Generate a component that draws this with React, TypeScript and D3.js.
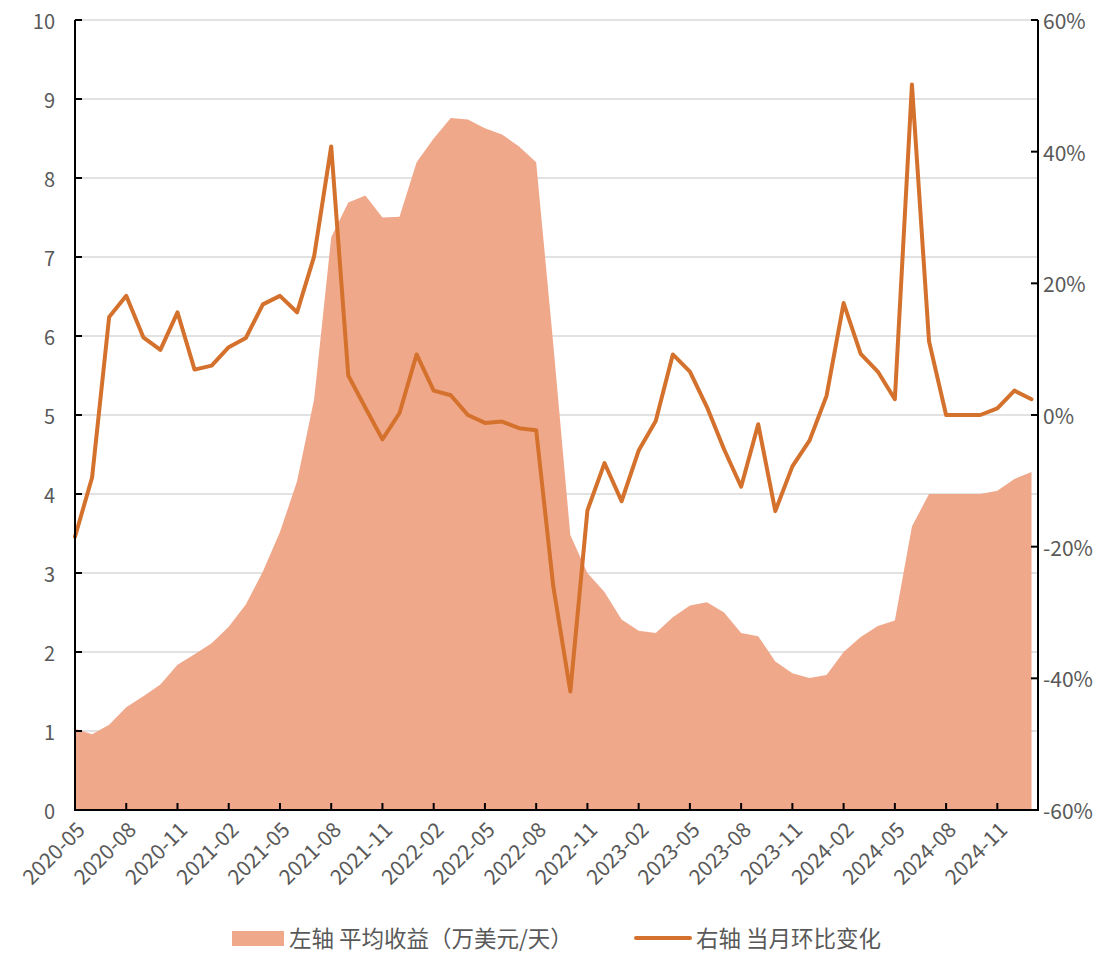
import * as d3 from "d3";

const months = [
  "2020-05", "2020-06", "2020-07", "2020-08", "2020-09", "2020-10", "2020-11", "2020-12",
  "2021-01", "2021-02", "2021-03", "2021-04", "2021-05", "2021-06", "2021-07", "2021-08",
  "2021-09", "2021-10", "2021-11", "2021-12", "2022-01", "2022-02", "2022-03", "2022-04",
  "2022-05", "2022-06", "2022-07", "2022-08", "2022-09", "2022-10", "2022-11", "2022-12",
  "2023-01", "2023-02", "2023-03", "2023-04", "2023-05", "2023-06", "2023-07", "2023-08",
  "2023-09", "2023-10", "2023-11", "2023-12", "2024-01", "2024-02", "2024-03", "2024-04",
  "2024-05", "2024-06", "2024-07", "2024-08", "2024-09", "2024-10", "2024-11", "2024-12",
  "2025-01",
];

// 左轴：平均收益（万美元/天）
const avgEarnings = [
  1.03, 0.96, 1.08, 1.3, 1.44, 1.59, 1.84, 1.97, 2.11, 2.32, 2.6, 3.02, 3.52, 4.16, 5.2, 7.25,
  7.69, 7.78, 7.5, 7.51, 8.2, 8.5, 8.76, 8.74, 8.63, 8.55, 8.4, 8.2, 5.9, 3.48, 3.0, 2.76,
  2.41, 2.27, 2.24, 2.44, 2.59, 2.63, 2.5, 2.24, 2.2, 1.88, 1.73, 1.67, 1.71, 2.0, 2.19, 2.33,
  2.4, 3.59, 4.0, 4.0, 4.0, 4.0, 4.04, 4.19, 4.28,
];

// 右轴：当月环比变化（%）
const momChange = [
  -18.5, -9.5, 14.9, 18.1, 11.8, 9.9, 15.6, 6.9, 7.5, 10.3, 11.7, 16.8, 18.1, 15.6, 24.1, 40.8,
  6.0, 1.1, -3.7, 0.3, 9.2, 3.7, 3.0, 0.0, -1.2, -1.0, -2.0, -2.3, -26.0, -42.0, -14.5, -7.3,
  -13.1, -5.4, -0.9, 9.2, 6.6, 1.2, -5.2, -10.9, -1.4, -14.6, -7.8, -3.9, 2.9, 17.0, 9.3, 6.6,
  2.4, 50.2, 11.2, 0, 0, 0, 1.0, 3.7, 2.4,
];

const leftTicks = [0, 1, 2, 3, 4, 5, 6, 7, 8, 9, 10];
const rightTicks = [-60, -40, -20, 0, 20, 40, 60];
const xTickLabels = [
  "2020-05", "2020-08", "2020-11", "2021-02", "2021-05", "2021-08", "2021-11", "2022-02",
  "2022-05", "2022-08", "2022-11", "2023-02", "2023-05", "2023-08", "2023-11", "2024-02",
  "2024-05", "2024-08", "2024-11",
];

const legendLeft = "左轴 平均收益（万美元/天）";
const legendRight = "右轴 当月环比变化";

const W = 1117;
const H = 955;
const left = 75;
const lastX = 1031.5;
const rightAxis = 1038;
const top = 20;
const bottom = 810;

const AREA_COLOR = "#F0A88B";
const LINE_COLOR = "#D4712D";
const TEXT_COLOR = "#595959";
const GRID_COLOR = "#D9D9D9";
const FONT = "'Noto Sans CJK SC', 'Noto Sans', sans-serif";

export default function App() {
  const x = d3.scalePoint<string>().domain(months).range([left, lastX]);
  const yL = d3.scaleLinear().domain([0, 10]).range([bottom, top]);
  const yR = d3.scaleLinear().domain([-60, 60]).range([bottom, top]);

  const area = d3
    .area<number>()
    .x((_, i) => x(months[i]) ?? 0)
    .y0(yL(0))
    .y1((d) => yL(d));

  const line = d3
    .line<number>()
    .x((_, i) => x(months[i]) ?? 0)
    .y((d) => yR(d));

  return (
    <svg
      width={W}
      height={H}
      style={{ position: "absolute", left: 0, top: 0, background: "#fff" }}
      fontFamily={FONT}
    >
      {/* gridlines */}
      {leftTicks.slice(1).map((t) => (
        <line key={"g" + t} x1={left} x2={rightAxis} y1={yL(t)} y2={yL(t)} stroke={GRID_COLOR} strokeWidth={1.5} />
      ))}

      <path d={area(avgEarnings) ?? ""} fill={AREA_COLOR} />
      <path
        d={line(momChange) ?? ""}
        fill="none"
        stroke={LINE_COLOR}
        strokeWidth={4}
        strokeLinejoin="round"
        strokeLinecap="round"
      />

      {/* axes */}
      <line x1={left} x2={left} y1={top} y2={bottom} stroke="#000" strokeWidth={2} />
      <line x1={rightAxis} x2={rightAxis} y1={top} y2={bottom} stroke="#000" strokeWidth={2} />
      <line x1={left - 1} x2={rightAxis + 1} y1={bottom} y2={bottom} stroke="#000" strokeWidth={2} />

      {leftTicks.map((t) => (
        <g key={"l" + t}>
          <line x1={left} x2={left + 7} y1={yL(t)} y2={yL(t)} stroke="#000" strokeWidth={2} />
          <text x={55} y={yL(t)} textAnchor="end" dominantBaseline="central" fontSize={20} fill={TEXT_COLOR}>
            {t}
          </text>
        </g>
      ))}

      {rightTicks.map((t) => (
        <g key={"r" + t}>
          <line x1={rightAxis - 7} x2={rightAxis} y1={yR(t)} y2={yR(t)} stroke="#000" strokeWidth={2} />
          <text x={1043} y={yR(t)} dominantBaseline="central" fontSize={21} fill={TEXT_COLOR}>
            {t + "%"}
          </text>
        </g>
      ))}

      {xTickLabels.map((m) => {
        const px = x(m) ?? 0;
        return (
          <g key={m}>
            <line x1={px} x2={px} y1={bottom} y2={bottom - 7} stroke="#000" strokeWidth={2} />
            <text
              transform={`translate(${px + 5},${bottom + 15}) rotate(-45)`}
              textAnchor="end"
              dominantBaseline="central"
              fontSize={21}
              fill={TEXT_COLOR}
            >
              {m}
            </text>
          </g>
        );
      })}

      {/* legend */}
      <rect x={232} y={931} width={52} height={15} fill={AREA_COLOR} />
      <text x={289} y={937} dominantBaseline="central" fontSize={22.5} fill={TEXT_COLOR}>
        {legendLeft}
      </text>
      <line x1={636} x2={690} y1={938} y2={938} stroke={LINE_COLOR} strokeWidth={4} strokeLinecap="round" />
      <text x={696} y={937} dominantBaseline="central" fontSize={22.5} fill={TEXT_COLOR}>
        {legendRight}
      </text>
    </svg>
  );
}
